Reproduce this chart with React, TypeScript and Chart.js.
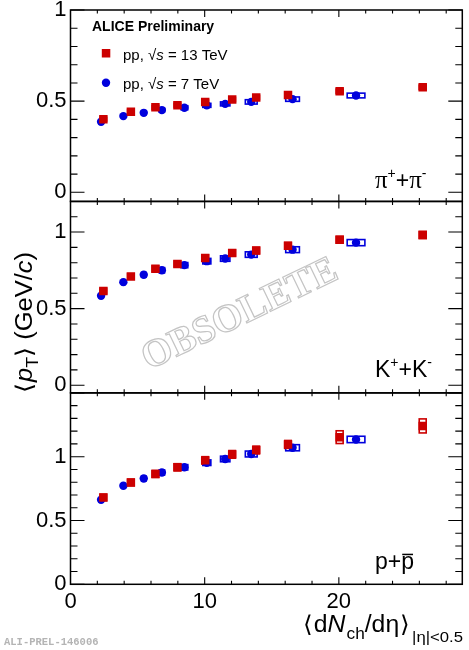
import { useEffect, useRef } from 'react';
import Chart from 'chart.js/auto';

// <dNch/deta> of the multiplicity classes
const mult13 = [2.45, 4.5, 6.33, 7.97, 10.04, 12.05, 13.84, 16.21, 20.06, 26.25];
const mult7 = [2.28, 3.94, 5.46, 6.81, 8.49, 10.16, 11.53, 13.47, 16.55, 21.28];
const multSys13 = [0.24, 0.24, 0.24, 0.24, 0.24, 0.24, 0.24, 0.24, 0.26, 0.26];
const multSys7 = [0.07, 0.12, 0.16, 0.2, 0.25, 0.3, 0.35, 0.44, 0.51, 0.66];

// <pT> (GeV/c)
const piMean13 = [0.401, 0.442, 0.466, 0.478, 0.496, 0.509, 0.52, 0.534, 0.554, 0.576];
const piMean7 = [0.387, 0.418, 0.436, 0.451, 0.464, 0.477, 0.485, 0.496, 0.511, 0.531];
const kMean13 = [0.615, 0.71, 0.76, 0.792, 0.831, 0.864, 0.879, 0.911, 0.95, 0.981];
const kMean7 = [0.584, 0.673, 0.721, 0.751, 0.784, 0.81, 0.827, 0.853, 0.885, 0.931];
const pMean13 = [0.681, 0.798, 0.865, 0.917, 0.971, 1.018, 1.052, 1.096, 1.153, 1.241];
const pMean7 = [0.663, 0.772, 0.829, 0.876, 0.917, 0.953, 0.982, 1.021, 1.07, 1.135];

// systematic uncertainties on <pT>
const piSys13 = [0.01, 0.01, 0.01, 0.01, 0.01, 0.011, 0.011, 0.011, 0.012, 0.012];
const piSys7 = [0.01, 0.01, 0.01, 0.01, 0.011, 0.011, 0.011, 0.012, 0.012, 0.013];
const kSys13 = [0.018, 0.018, 0.019, 0.019, 0.02, 0.02, 0.021, 0.021, 0.022, 0.023];
const kSys7 = [0.015, 0.016, 0.016, 0.017, 0.017, 0.018, 0.018, 0.018, 0.019, 0.02];
const pSys13 = [0.025, 0.026, 0.027, 0.028, 0.029, 0.03, 0.03, 0.031, 0.05, 0.055];
const pSys7 = [0.018, 0.019, 0.02, 0.02, 0.021, 0.022, 0.022, 0.023, 0.024, 0.025];

const xTicks = [0, 10, 20];
const yTicks = [0, 0.5, 1];

const RED = '#cc0000';
const BLUE = '#0000dd';
const SANS = '"Liberation Sans", Arial, Helvetica, sans-serif';
const SERIF = '"Liberation Serif", "Times New Roman", serif';
const MONO = '"Liberation Mono", "DejaVu Sans Mono", monospace';

const panels = [
  { id: 'yPi', min: -0.05, max: 1.0, weight: 3, v13: piMean13, v7: piMean7, e13: piSys13, e7: piSys7 },
  { id: 'yK', min: -0.05, max: 1.2, weight: 2, v13: kMean13, v7: kMean7, e13: kSys13, e7: kSys7 },
  { id: 'yP', min: 0, max: 1.5, weight: 1, v13: pMean13, v7: pMean7, e13: pSys13, e7: pSys7 },
];

type Run = { t: string; font: string; dy?: number; dx?: number; over?: boolean };

function runsWidth(ctx: CanvasRenderingContext2D, runs: Run[]) {
  let w = 0;
  for (const r of runs) {
    ctx.font = r.font;
    w += (r.dx || 0) + ctx.measureText(r.t).width;
  }
  return w;
}

function drawRuns(ctx: CanvasRenderingContext2D, runs: Run[], x: number, y: number) {
  let cx = x;
  for (const r of runs) {
    ctx.font = r.font;
    cx += r.dx || 0;
    const w = ctx.measureText(r.t).width;
    ctx.fillText(r.t, cx, y + (r.dy || 0));
    if (r.over) {
      ctx.fillRect(cx + 1, y - 15, w - 2, 1.5);
    }
    cx += w;
  }
}

// stretch a run of text horizontally so it spans the given width (ROOT text is a bit wider)
function drawRunsFit(ctx: CanvasRenderingContext2D, runs: Run[], x: number, y: number, width: number) {
  const w = runsWidth(ctx, runs);
  ctx.save();
  ctx.translate(x, y);
  ctx.scale(width / w, 1);
  drawRuns(ctx, runs, 0, 0);
  ctx.restore();
}

const f = (size: number, style = '') => `${style} ${size}px ${SANS}`.trim();
const fs = (size: number) => `${size}px ${SERIF}`;

function drawBoxes(ctx: CanvasRenderingContext2D, xs: any, ys: any, xv: number[], yv: number[], ex: number[], ey: number[], color: string) {
  ctx.strokeStyle = color;
  ctx.lineWidth = 1.6;
  xv.forEach((x, i) => {
    const x0 = xs.getPixelForValue(x - ex[i]);
    const x1 = xs.getPixelForValue(x + ex[i]);
    const y0 = ys.getPixelForValue(yv[i] + ey[i]);
    const y1 = ys.getPixelForValue(yv[i] - ey[i]);
    ctx.strokeRect(x0, y0, x1 - x0, y1 - y0);
  });
}

const aliPlugin = {
  id: 'aliceStyle',
  beforeDatasetsDraw(chart: any) {
    const ctx = chart.ctx as CanvasRenderingContext2D;
    const xs = chart.scales.x;
    ctx.save();
    for (const p of panels) {
      const ys = chart.scales[p.id];
      drawBoxes(ctx, xs, ys, mult7, p.v7, multSys7, p.e7, BLUE);
      drawBoxes(ctx, xs, ys, mult13, p.v13, multSys13, p.e13, RED);
    }
    ctx.restore();
  },
  afterDatasetsDraw(chart: any) {
    const ctx = chart.ctx as CanvasRenderingContext2D;
    const { left, right } = chart.chartArea;
    const xs = chart.scales.x;
    ctx.save();
    ctx.strokeStyle = '#000';
    for (const p of panels) {
      const ys = chart.scales[p.id];
      const top = ys.top;
      const bottom = ys.bottom;
      ctx.lineWidth = 1.1;
      ctx.beginPath();
      for (let v = 2; v <= xs.max; v += 2) {
        const px = xs.getPixelForValue(v);
        const len = v % 10 === 0 ? 7 : 3.5;
        ctx.moveTo(px, bottom);
        ctx.lineTo(px, bottom - len);
        ctx.moveTo(px, top);
        ctx.lineTo(px, top + len);
      }
      for (let k = Math.ceil(p.min * 10); k <= Math.floor(p.max * 10 + 1e-6); k++) {
        const py = ys.getPixelForValue(k / 10);
        const len = k % 5 === 0 ? 14 : 7;
        ctx.moveTo(left, py);
        ctx.lineTo(left + len, py);
        ctx.moveTo(right, py);
        ctx.lineTo(right - len, py);
      }
      ctx.stroke();
      ctx.lineWidth = 1.5;
      ctx.strokeRect(left, top, right - left, bottom - top);
    }
    ctx.restore();
  },
  afterDraw(chart: any) {
    const ctx = chart.ctx as CanvasRenderingContext2D;
    ctx.save();
    ctx.fillStyle = '#000';
    ctx.textAlign = 'left';
    ctx.textBaseline = 'alphabetic';

    // legend
    ctx.font = f(14, 'bold');
    ctx.fillText('ALICE Preliminary', 92, 30.5);
    ctx.fillStyle = RED;
    ctx.fillRect(101.8, 49, 8.5, 8.5);
    ctx.fillStyle = BLUE;
    ctx.beginPath();
    ctx.arc(106, 82.7, 4.2, 0, Math.PI * 2);
    ctx.fill();
    ctx.fillStyle = '#000';
    const sqrtS = (e: string): Run[] => [
      { t: 'pp, ', font: f(15) },
      { t: '\u221A', font: f(15) },
      { t: 's', font: f(15, 'italic') },
      { t: ` = ${e} TeV`, font: f(15) },
    ];
    drawRuns(ctx, sqrtS('13'), 123, 60);
    drawRuns(ctx, sqrtS('7'), 123, 89);

    // particle labels
    drawRuns(ctx, [
      { t: '\u03C0', font: fs(25) },
      { t: '+', font: f(14), dy: -10 },
      { t: '+', font: f(23) },
      { t: '\u03C0', font: fs(25) },
      { t: '-', font: f(14), dy: -10 },
    ], 375, 188.3);
    drawRuns(ctx, [
      { t: 'K', font: f(23) },
      { t: '+', font: f(14), dy: -10 },
      { t: '+', font: f(23) },
      { t: 'K', font: f(23) },
      { t: '-', font: f(14), dy: -10 },
    ], 375, 376.7);
    drawRuns(ctx, [
      { t: 'p', font: f(23) },
      { t: '+', font: f(23) },
      { t: 'p', font: f(23), over: true },
    ], 375, 568.7);

    // x title
    drawRunsFit(ctx, [
      { t: '\u27E8', font: f(23) },
      { t: 'd', font: f(23), dx: 1 },
      { t: 'N', font: f(23, 'italic') },
      { t: 'ch', font: f(16), dy: 7.5, dx: 1 },
      { t: '/d', font: f(23) },
      { t: '\u03B7', font: f(23) },
      { t: '\u27E9', font: f(23), dx: 1 },
      { t: '|\u03B7|<0.5', font: f(15.5), dy: 10.5, dx: 2 },
    ], 303, 631.5, 160);

    // y title
    ctx.save();
    ctx.translate(31.5, 393);
    ctx.rotate(-Math.PI / 2);
    drawRunsFit(ctx, [
      { t: '\u27E8', font: f(23) },
      { t: 'p', font: f(23, 'italic'), dx: 1 },
      { t: 'T', font: f(16), dy: 6 },
      { t: '\u27E9', font: f(23) },
      { t: ' (GeV/', font: f(23) },
      { t: 'c', font: f(23, 'italic') },
      { t: ')', font: f(23) },
    ], 0, 0, 141);
    ctx.restore();

    // watermark
    ctx.save();
    ctx.translate(240, 315);
    ctx.rotate((-25.7 * Math.PI) / 180);
    ctx.font = `bold 39px ${SERIF}`;
    ctx.textAlign = 'center';
    ctx.textBaseline = 'middle';
    ctx.strokeStyle = '#c4c4c4';
    ctx.lineWidth = 1.2;
    ctx.strokeText('OBSOLETE', 0, 0);
    ctx.restore();

    ctx.fillStyle = '#b4b4b4';
    ctx.font = `bold 10.5px ${MONO}`;
    ctx.fillText('ALI-PREL-146006', 4, 645);
    ctx.restore();
  },
};

export default function App() {
  const canvasRef = useRef<HTMLCanvasElement>(null);

  useEffect(() => {
    if (!canvasRef.current) return;
    const ctx = canvasRef.current.getContext('2d');
    if (!ctx) return;

    const datasets: any[] = [];
    // 13 TeV first, so it is painted over the 7 TeV points
    panels.forEach(p => {
      datasets.push({
        label: 'pp 13 TeV',
        data: mult13.map((x, i) => ({ x, y: p.v13[i] })),
        yAxisID: p.id,
        showLine: false,
        pointStyle: 'rect',
        pointRadius: 6,
        borderWidth: 0,
        backgroundColor: RED,
        borderColor: RED,
      });
    });
    panels.forEach(p => {
      datasets.push({
        label: 'pp 7 TeV',
        data: mult7.map((x, i) => ({ x, y: p.v7[i] })),
        yAxisID: p.id,
        showLine: false,
        pointStyle: 'circle',
        pointRadius: 4.2,
        borderWidth: 0,
        backgroundColor: BLUE,
        borderColor: BLUE,
      });
    });

    const scales: any = {
      x: {
        type: 'linear',
        position: 'bottom',
        min: 0,
        max: 29.2,
        grid: { display: false, drawTicks: false },
        border: { display: false },
        ticks: { color: '#000', font: { family: SANS, size: 22 }, padding: 4, maxRotation: 0, callback: (v: any) => String(v) },
        afterBuildTicks: (a: any) => { a.ticks = xTicks.map(value => ({ value })); },
        afterFit: (a: any) => { a.height = 65.7; a.paddingLeft = 0; a.paddingRight = 0; },
      },
    };
    panels.forEach(p => {
      scales[p.id] = {
        type: 'linear',
        position: 'left',
        stack: 'panels',
        stackWeight: 1,
        weight: p.weight,
        min: p.min,
        max: p.max,
        grid: { display: false, drawTicks: false },
        border: { display: false },
        ticks: { color: '#000', font: { family: SANS, size: 22 }, padding: 4, callback: (v: any) => String(v) },
        afterBuildTicks: (a: any) => { a.ticks = yTicks.map(value => ({ value })); },
        afterFit: (a: any) => { a.width = 70.5; a.paddingTop = 0; a.paddingBottom = 0; },
      };
    });

    const chart = new Chart(ctx, {
      type: 'scatter',
      data: { datasets },
      options: {
        responsive: true,
        maintainAspectRatio: false,
        animation: false,
        layout: { padding: { top: 10, right: 6.7, left: 0, bottom: 0 } },
        plugins: { legend: { display: false }, tooltip: { enabled: false } },
        scales,
      },
      plugins: [aliPlugin],
    });

    return () => {
      chart.destroy();
    };
  }, []);

  return (
    <div style={{ position: 'fixed', left: 0, top: 0, width: 469, height: 650, background: '#fff' }}>
      <canvas ref={canvasRef}></canvas>
    </div>
  );
}
